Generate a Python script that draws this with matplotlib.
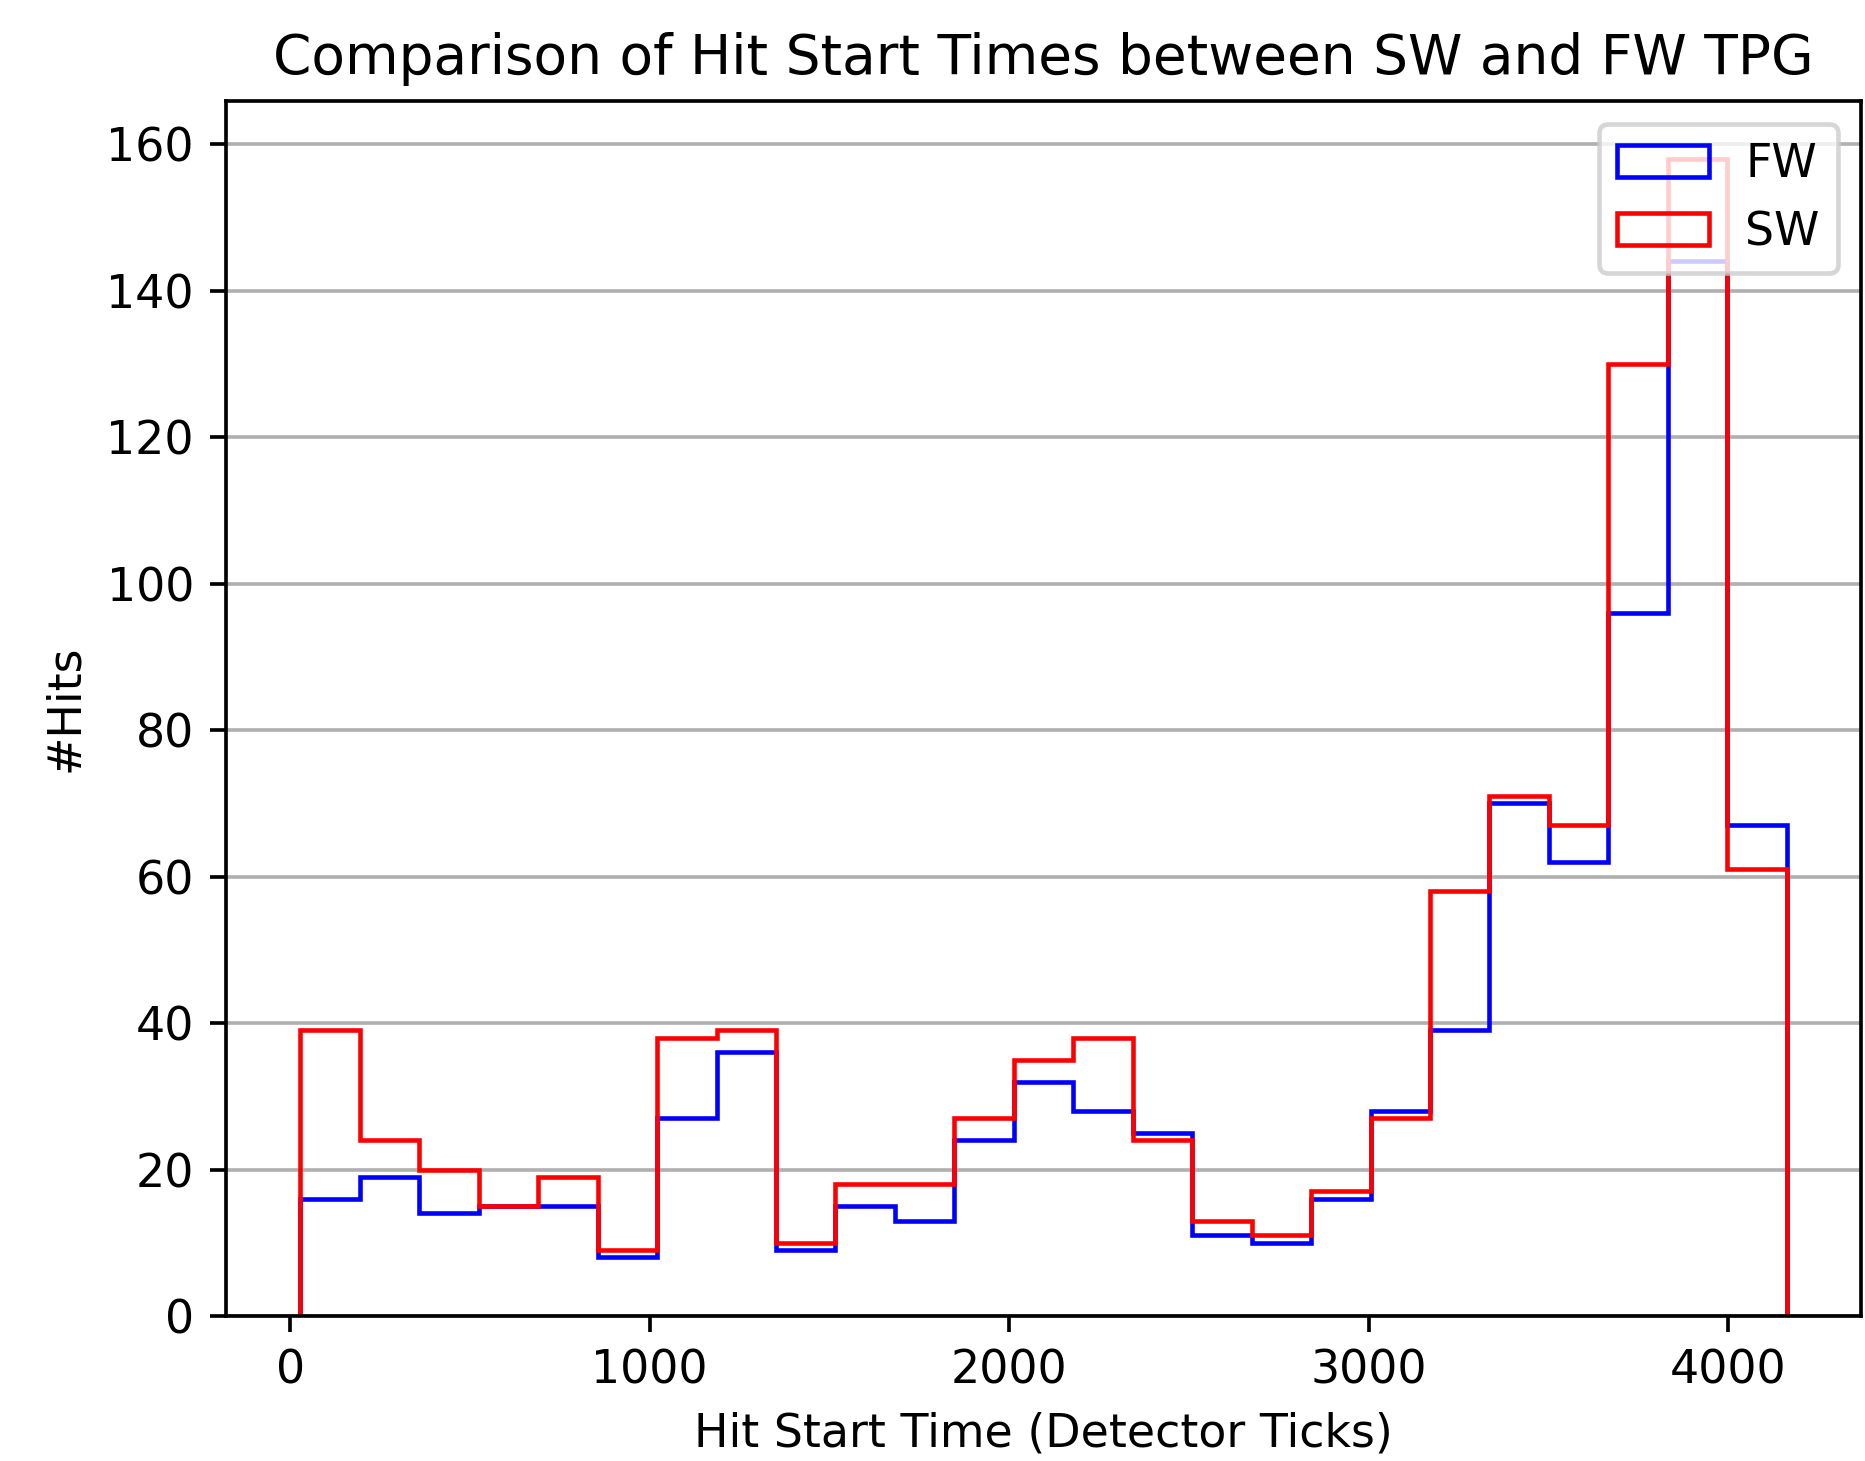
import matplotlib
matplotlib.use("Agg")
import matplotlib.pyplot as plt
import numpy as np

bin_lo = 28
bin_hi = 4163
n_bins = 25

fw_counts = [16, 19, 14, 15, 15, 8, 27, 36, 9, 15, 13, 24, 32, 28, 25, 11, 10, 16, 28, 39, 70, 62, 96, 144, 67]
sw_counts = [39, 24, 20, 15, 19, 9, 38, 39, 10, 18, 18, 27, 35, 38, 24, 13, 11, 17, 27, 58, 71, 67, 130, 158, 61]

edges = np.linspace(bin_lo, bin_hi, n_bins + 1)
centers = 0.5 * (edges[:-1] + edges[1:])

fig = plt.figure(figsize=(1865 / 330, 1461 / 330), dpi=330)
ax = fig.add_axes([226 / 1865, 1 - 1316 / 1461, (1861 - 226) / 1865, (1316 - 101) / 1461])

ax.hist(centers, bins=edges, weights=fw_counts, histtype='step', color='blue', label='FW')
ax.hist(centers, bins=edges, weights=sw_counts, histtype='step', color='red', label='SW')

ax.yaxis.grid(True)
ax.set_axisbelow(True)
ax.set_title('Comparison of Hit Start Times between SW and FW TPG')
ax.set_xlabel('Hit Start Time (Detector Ticks)')
ax.set_ylabel('#Hits')
ax.legend(loc='upper right')

fig.savefig('out.png', dpi=330)
